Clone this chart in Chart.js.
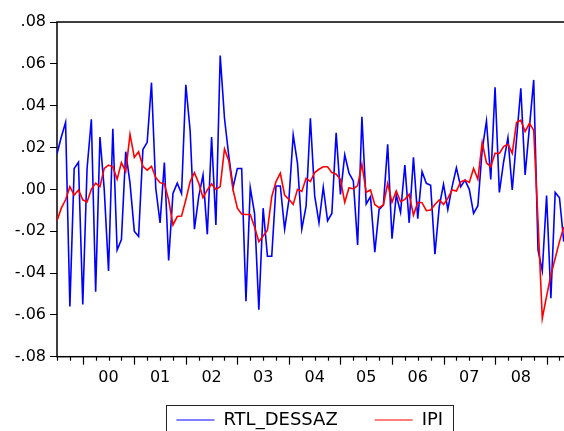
<!DOCTYPE html>
<html>
<head>
<meta charset="utf-8">
<script src="https://cdn.jsdelivr.net/npm/chart.js@4"></script>
<style>
  html, body { margin: 0; padding: 0; overflow: hidden; background: #fff; width: 564px; height: 431px; }
  canvas { display: block; }
</style>
</head>
<body>
<canvas id="myChart" width="632" height="439"></canvas>
<script>
// --------------------
// Data (monthly, 1999M07 onwards)
// --------------------
const startYear = 1999;
const startMonth = 7;

const yearLabels = ["00", "01", "02", "03", "04", "05", "06", "07", "08"];

const rtlDessaz = [
  0.017, 0.025, 0.032, -0.056, 0.010, 0.013, -0.055, 0.010, 0.0335, -0.049,
  0.025, 0.000, -0.039, 0.029, -0.029, -0.024, 0.018, 0.003, -0.020, -0.0225,
  0.019, 0.0225, 0.051, 0.0005, -0.016, 0.0128, -0.034, -0.002, 0.003, -0.002,
  0.050, 0.028, -0.019, -0.0035, 0.0069, -0.0215, 0.025, -0.017, 0.064, 0.034,
  0.016, 0.001, 0.010, 0.010, -0.0535, 0.0008, -0.0115, -0.0575, -0.009, -0.032,
  -0.032, 0.0016, 0.0016, -0.019, -0.005, 0.026, 0.0124, -0.019, -0.008, 0.034,
  -0.003, -0.016, 0.001, -0.015, -0.0115, 0.027, -0.0024, 0.0165, 0.0077, 0.004,
  -0.0266, 0.0347, -0.007, -0.0035, -0.030, -0.0096, -0.0075, 0.0215, -0.0236, -0.0027,
  -0.011, 0.0116, -0.016, 0.0153, -0.014, 0.0085, 0.0029, 0.002, -0.031, -0.0083,
  0.0024, -0.0096, 0.0013, 0.0103, 0.0013, 0.0044, 0.000, -0.0115, -0.0078, 0.0188,
  0.0327, 0.0047, 0.0488, -0.0015, 0.0132, 0.0247, -0.0003, 0.024, 0.0483, 0.0069,
  0.0296, 0.0523, -0.029, -0.039, -0.003, -0.052, -0.0015, -0.004, -0.025
];

const ipi = [
  -0.015, -0.009, -0.005, 0.0013, -0.0027, -0.0003, -0.005, -0.006, 0.000, 0.003,
  0.0013, 0.010, 0.0116, 0.0108, 0.0048, 0.0128, 0.0085, 0.0263, 0.0153, 0.018,
  0.011, 0.0092, 0.011, 0.0056, 0.0032, 0.0026, -0.005, -0.017, -0.013, -0.0128,
  -0.005, 0.0037, 0.008, 0.003, -0.004, -0.0003, 0.0026, 0.000, 0.0013, 0.0193,
  0.0137, -0.0003, -0.009, -0.0118, -0.012, -0.012, -0.018, -0.025, -0.0223, -0.0195,
  -0.0035, 0.0037, 0.0077, -0.0027, -0.0048, -0.0072, 0.000, -0.001, 0.0053, 0.0037,
  0.008, 0.0096, 0.0108, 0.0108, 0.008, 0.0072, 0.0048, -0.0062, 0.0008, 0.0002,
  0.0018, 0.012, -0.0014, -0.0003, -0.0072, -0.0088, -0.0075, 0.0029, -0.0062, -0.0008,
  -0.0059, -0.0048, -0.0024, -0.0123, -0.0062, -0.0064, -0.0102, -0.0099, -0.0072, -0.0051,
  -0.0072, -0.0043, -0.0003, -0.0008, 0.0036, 0.0044, 0.0033, 0.010, 0.0048, 0.0224,
  0.0127, 0.0108, 0.0172, 0.0172, 0.0204, 0.0216, 0.0172, 0.0319, 0.0331, 0.0276,
  0.0315, 0.0283, -0.015, -0.0617, -0.051, -0.041, -0.033, -0.025, -0.018
];

// month categories, e.g. "1999M07"
const months = rtlDessaz.map((_, i) => {
  const m = startMonth - 1 + i;
  const y = startYear + Math.floor(m / 12);
  return y + "M" + String((m % 12) + 1).padStart(2, "0");
});

// year labels sit in the middle of each year (July)
const labelIndex = yearLabels.map(l => months.indexOf("20" + l + "M07"));

const font = "DejaVu Sans";

// --------------------
// Plugins
// --------------------
const framePlugin = {
  id: "frame",
  beforeDatasetsDraw(chart) {
    const { ctx, chartArea: a, scales } = chart;
    const xs = scales.x;
    ctx.save();
    ctx.strokeStyle = "#000";
    ctx.lineWidth = 1.5;
    ctx.strokeRect(a.left, a.top, a.right - a.left, a.bottom - a.top);

    // quarterly tick marks, long ones at January
    ctx.lineWidth = 1.2;
    for (let i = 0; i <= xs.max; i += 3) {
      const m = (startMonth - 1 + i) % 12;
      const px = Math.round(xs.getPixelForValue(i)) + 0.5;
      const len = m === 0 ? 8 : 4;
      ctx.beginPath();
      ctx.moveTo(px, a.bottom);
      ctx.lineTo(px, a.bottom + len);
      ctx.stroke();
    }
    ctx.restore();
  }
};

const legendBoxPlugin = {
  id: "legendBox",
  afterDraw(chart) {
    const hb = chart.legend.legendHitBoxes;
    if (!hb || !hb.length) return;
    const last = hb[hb.length - 1];
    const left = hb[0].left - 10;
    const right = last.left + last.width + 10;
    const cy = hb[0].top + hb[0].height / 2;
    const ctx = chart.ctx;
    ctx.save();
    ctx.strokeStyle = "#222";
    ctx.lineWidth = 1;
    ctx.strokeRect(Math.round(left) + 0.5, Math.round(cy - 15) + 0.5,
                   Math.round(right - left), 34);
    ctx.restore();
  }
};

// --------------------
// Chart
// --------------------
const ctx = document.getElementById("myChart").getContext("2d");

new Chart(ctx, {
  type: "line",
  data: {
    datasets: [
      {
        label: "RTL_DESSAZ",
        data: rtlDessaz.map((v, i) => ({ x: i, y: v })),
        borderColor: "#0000FF",
        backgroundColor: "#0000FF",
        borderWidth: 1.6,
        pointRadius: 0,
        tension: 0,
        order: 2
      },
      {
        label: "IPI",
        data: ipi.map((v, i) => ({ x: i, y: v })),
        borderColor: "#FF0000",
        backgroundColor: "#FF0000",
        borderWidth: 1.6,
        pointRadius: 0,
        tension: 0,
        order: 1
      }
    ]
  },
  options: {
    responsive: false,
    devicePixelRatio: 1,
    animation: false,
    events: [],
    layout: {
      autoPadding: false,
      padding: { top: 22, left: 0, right: 12.4, bottom: 0 }
    },
    scales: {
      x: {
        type: "linear",
        min: 0,
        max: 131,
        grid: { display: false, drawTicks: false },
        border: { display: false },
        afterBuildTicks: (s) => { s.ticks = labelIndex.map(v => ({ value: v })); },
        afterFit: (s) => {
          s.height = 17.3;
          // labels hang below the (short) axis box; don't clip them
          s._computeLabelArea = () => undefined;
        },
        ticks: {
          autoSkip: false,
          maxRotation: 0,
          padding: 12,
          color: "#000",
          font: { family: font, size: 16 },
          callback: (v) => yearLabels[labelIndex.indexOf(v)]
        }
      },
      y: {
        min: -0.08,
        max: 0.08,
        grid: { drawOnChartArea: false, drawTicks: true, tickLength: 7, color: "#000", lineWidth: 1 },
        border: { display: false },
        afterFit: (s) => { s.width = 57; },
        ticks: {
          stepSize: 0.02,
          padding: 4,
          color: "#000",
          font: { family: font, size: 16 },
          callback: (v) => {
            const r = Math.round(v * 100) / 100;
            let t = Math.abs(r).toFixed(2).replace(/^0/, "");
            return (r < 0 ? "-" : "") + t;
          }
        }
      }
    },
    plugins: {
      tooltip: { enabled: false },
      legend: {
        position: "bottom",
        labels: {
          color: "#000",
          font: { family: font, size: 18 },
          boxWidth: 38,
          boxHeight: 1,
          padding: 37,
          sort: (a, b) => a.datasetIndex - b.datasetIndex,
          generateLabels: (chart) => {
            const items = Chart.defaults.plugins.legend.labels.generateLabels(chart);
            items.forEach(it => { it.lineWidth = 0; });
            return items;
          }
        }
      }
    }
  },
  plugins: [framePlugin, legendBoxPlugin]
});
</script>
</body>
</html>
